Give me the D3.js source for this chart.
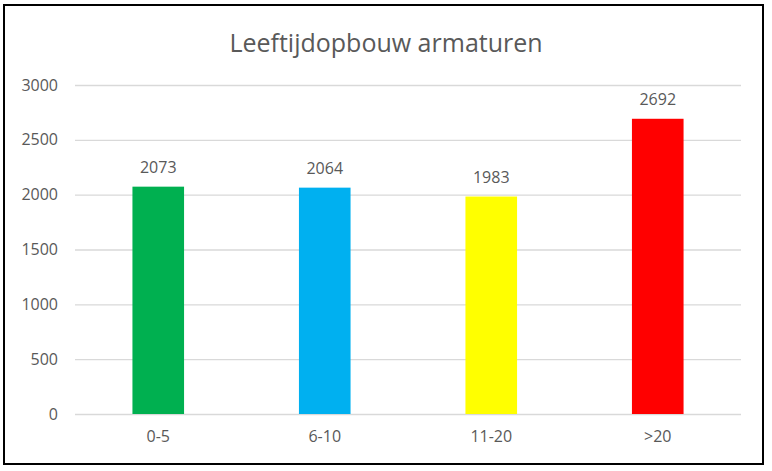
<!DOCTYPE html>
<html>
<head>
<meta charset="utf-8">
<script src="https://cdn.jsdelivr.net/npm/d3@7"></script>
<style>
  body { margin: 0; background: #fff; }
  svg { display: block; font-family: "Open Sans", sans-serif; }
</style>
</head>
<body>
<div id="chart"></div>
<script>
const categories = ['0-5', '6-10', '11-20', '>20'];
const counts = [2073, 2064, 1983, 2692];
const barColours = ['#00B050', '#00B0F0', '#FFFF00', '#FF0000'];
const yTicks = [0, 500, 1000, 1500, 2000, 2500, 3000];

const width = 772;
const height = 471;
const plot = { left: 75, right: 741, top: 85, bottom: 414 };

const svg = d3.select('#chart')
     .append('svg')
          .attr('width', width)
          .attr('height', height);

// frame round the whole chart
svg.append('rect')
     .attr('x', 4)
     .attr('y', 5)
     .attr('width', 759)
     .attr('height', 459)
     .attr('fill', '#fff')
     .attr('stroke', '#000')
     .attr('stroke-width', 2);

// title
svg.append('text')
     .attr('x', 386)
     .attr('y', 52)
     .attr('text-anchor', 'middle')
     .attr('font-size', 25)
     .attr('fill', '#595959')
     .text('Leeftijdopbouw armaturen');

const xScale = d3.scaleBand()
     .domain(categories)
     .range([plot.left, plot.right])
     .paddingInner(0.69)
     .paddingOuter(0.345);

const yScale = d3.scaleLinear()
     .domain([0, 3000])
     .range([plot.bottom, plot.top]);

// gridlines + y labels
const yAxis = svg.append('g')
     .attr('transform', `translate(${plot.left}, 0)`)
     .call(d3.axisLeft(yScale)
          .tickValues(yTicks)
          .tickFormat(d3.format('d'))
          .tickSize(-(plot.right - plot.left))
          .tickPadding(17));
yAxis.select('.domain').remove();
yAxis.selectAll('line').attr('stroke', '#d9d9d9').attr('stroke-width', 1.3);
yAxis.selectAll('text')
     .attr('font-family', '"Open Sans", sans-serif')
     .attr('font-size', 16)
     .attr('fill', '#595959');

// x labels
const xAxis = svg.append('g')
     .attr('transform', `translate(0, ${plot.bottom})`)
     .call(d3.axisBottom(xScale).tickSize(0).tickPadding(17));
xAxis.select('.domain').remove();
xAxis.selectAll('text')
     .attr('font-family', '"Open Sans", sans-serif')
     .attr('font-size', 16)
     .attr('fill', '#595959');

const bars = svg.append('g');

bars.selectAll('rect')
     .data(categories)
     .enter()
          .append('rect')
               .attr('x', (d) => xScale(d))
               .attr('y', (d, i) => yScale(counts[i]))
               .attr('width', xScale.bandwidth())
               .attr('height', (d, i) => plot.bottom - yScale(counts[i]))
               .attr('fill', (d, i) => barColours[i]);

// value labels above bars
bars.selectAll('text')
     .data(categories)
     .enter()
          .append('text')
               .attr('x', (d) => xScale(d) + xScale.bandwidth() / 2)
               .attr('y', (d, i) => yScale(counts[i]) - 14)
               .attr('text-anchor', 'middle')
               .attr('font-size', 16)
               .attr('fill', '#595959')
               .text((d, i) => counts[i]);
</script>
</body>
</html>
